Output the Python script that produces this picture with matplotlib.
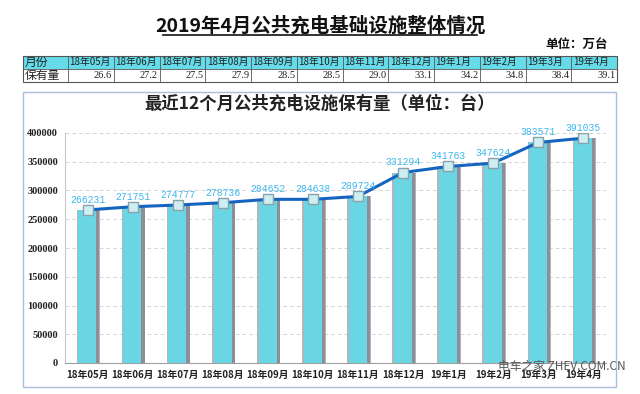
import numpy as np
import matplotlib
matplotlib.use('Agg')
import matplotlib.pyplot as plt
from matplotlib.patches import Rectangle

plt.rcParams['font.family'] = ['Noto Sans CJK SC', 'DejaVu Sans']

# data
months = ['18年05月', '18年06月', '18年07月', '18年08月', '18年09月', '18年10月',
          '18年11月', '18年12月', '19年1月', '19年2月', '19年3月', '19年4月']
table_months = ['18年05月', '18年06月', '18年07月', '18年08月', '18年09月', '18年10月',
                '18年11月', '18年12月', '19年1月', '19年2月', '19年3月', '19年4月']
table_vals = ['26.6', '27.2', '27.5', '27.9', '28.5', '28.5',
              '29.0', '33.1', '34.2', '34.8', '38.4', '39.1']
counts = [266231, 271751, 274777, 278736, 284652, 284638,
          289724, 331294, 341763, 347624, 383571, 391035]
yticks = [0, 50000, 100000, 150000, 200000, 250000, 300000, 350000, 400000]

W, H = 640, 394
fig = plt.figure(figsize=(6.4, 3.94), dpi=100)

# background layer in pixel coords
bg = fig.add_axes([0, 0, 1, 1])
bg.set_xlim(0, W)
bg.set_ylim(H, 0)
bg.axis('off')

bg.text(320, 26, '2019年4月公共充电基础设施整体情况', ha='center', va='center',
        fontsize=14, fontweight='bold', color='#111111')
bg.plot([163, 477], [35, 35], color='#111111', lw=1.2)
bg.text(608, 44, '单位：万台', ha='right', va='center', fontsize=9,
        fontweight='bold', color='#111111')

# table
tx0, tx1 = 23, 68
colw = (617 - tx1) / 12.0
ty0, ty1, ty2 = 56, 68.5, 82
bg.add_patch(Rectangle((tx0, ty0), 617 - tx0, ty1 - ty0, facecolor='#66DCEA',
                       edgecolor='none'))
bg.add_patch(Rectangle((tx0, ty0), 617 - tx0, ty2 - ty0, facecolor='none',
                       edgecolor='#555555', lw=0.8))
bg.plot([tx0, 617], [ty1, ty1], color='#555555', lw=0.6)
bg.plot([tx1, tx1], [ty0, ty2], color='#555555', lw=0.6)
for i in range(12):
    xl = tx1 + i * colw
    bg.plot([xl + colw, xl + colw], [ty0, ty2], color='#555555', lw=0.6)
    bg.text(xl + 1.5, (ty0 + ty1) / 2, table_months[i], ha='left', va='center',
            fontsize=7, color='#222222')
    bg.text(xl + colw - 1.5, (ty1 + ty2) / 2, table_vals[i], ha='right', va='center',
            fontsize=7.5, color='#222222', family='Liberation Serif')
bg.text(tx0 + 1.5, (ty0 + ty1) / 2, '月份', ha='left', va='center', fontsize=8.5,
        color='#222222')
bg.text(tx0 + 1.5, (ty1 + ty2) / 2, '保有量', ha='left', va='center', fontsize=8.5,
        color='#222222')

# chart frame
bg.add_patch(Rectangle((23, 92), 593, 295, facecolor='white', edgecolor='#A9BEDA',
                       lw=1.0))
bg.text(320, 104, '最近12个月公共充电设施保有量（单位：台）', ha='center', va='center',
        fontsize=12.5, fontweight='bold', color='#222222')

# main chart
ax = fig.add_axes([65 / W, (H - 363) / H, 541 / W, 230 / H])
ax.patch.set_alpha(0)
x = np.arange(len(months))
ax.set_xlim(-0.5, len(months) - 0.5)
ax.set_ylim(0, 400000)

for yv in yticks[1:]:
    ax.axhline(yv, color='#D5D5D5', lw=0.7, ls=(0, (4, 3)), zorder=0)

# bars with a grey rim for the 3d look
ax.bar(x + 0.02, counts, width=0.52, color='#B4B4BC', zorder=2)
ax.bar(x + 0.045, counts, width=0.44, color='#8E8E98', zorder=2)
ax.bar(x - 0.005, counts, width=0.40, color='#6AD6E3', zorder=3)

ax.plot(x, counts, color='#1565C0', lw=2.2, zorder=4)
ax.plot(x, counts, ls='none', marker='s', ms=6.5, mfc='#CDEEF3', mec='#8AA0AA',
        mew=1.0, zorder=5)
for xi, v in zip(x, counts):
    ax.text(xi, v + 9000, str(v), ha='center', va='bottom', fontsize=7,
            color='#3DB7EE', family='Liberation Mono', zorder=6, clip_on=False)

ax.set_yticks(yticks)
ax.set_yticklabels([str(v) for v in yticks], family='Liberation Serif',
                   fontweight='bold', fontsize=7.5, color='#222222')
ax.set_xticks(x)
ax.set_xticklabels(months, fontweight='bold', fontsize=7, color='#222222')
ax.tick_params(length=0, pad=5)
for s in ['top', 'right']:
    ax.spines[s].set_visible(False)
ax.spines['left'].set_color('#C8C8C8')
ax.spines['bottom'].set_color('#A0A0A0')

bg.set_zorder(0)
ax.set_zorder(1)
# watermark sits on top of the last tick labels, as in the source image
fig.text(498 / W, 1 - 366 / H, '电车之家 ZHEV.COM.CN', ha='left', va='center',
         fontsize=8.5, color='#555555')

fig.savefig('out.png', dpi=100)
